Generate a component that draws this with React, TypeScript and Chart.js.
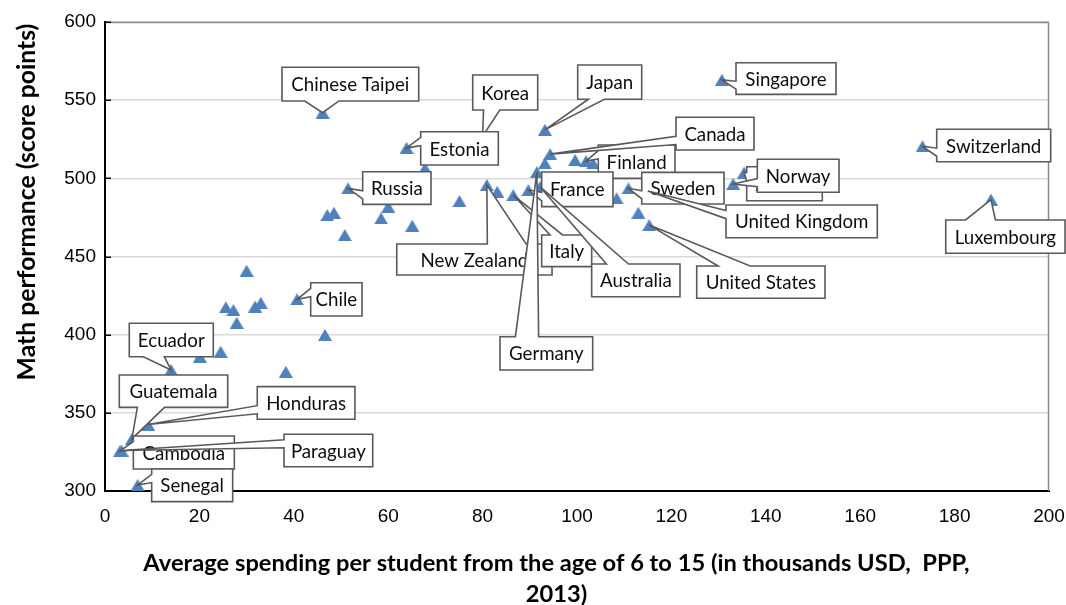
import React, { useEffect, useRef } from "react";
import { Chart, registerables } from "chart.js";

Chart.register(...registerables);

// ---------- DATA ----------
const xAxisTicks = [0, 20, 40, 60, 80, 100, 120, 140, 160, 180, 200];
const yAxisTicks = [300, 350, 400, 450, 500, 550, 600];

const xAxisTitle = [
  "Average spending per student from the age of 6 to 15 (in thousands USD,  PPP,",
  "2013)",
];
const yAxisTitle = "Math performance (score points)";

const labeledCountries = [
  "Chinese Taipei", "Singapore", "Japan", "Korea", "Estonia", "Switzerland",
  "Finland", "Canada", "Russia", "France", "New Zealand", "Italy", "Australia",
  "Germany", "Sweden", "United Kingdom", "Austria", "Norway", "United States",
  "Luxembourg", "Chile", "Ecuador", "Guatemala", "Honduras", "Cambodia",
  "Paraguay", "Senegal",
];
const labeledSpending = [
  46.1, 130.7, 93.2, 80.0, 63.9, 173.2,
  101.9, 94.3, 51.5, 89.7, 80.9, 86.5, 92.2,
  91.5, 110.9, 115.0, 135.4, 133.1, 115.3,
  187.7, 40.7, 14.0, 5.7, 9.1, 3.1,
  3.5, 6.9,
];
const labeledMath = [
  542, 563, 531, 527, 519.5, 520.5,
  511, 515.5, 493.6, 492.5, 495.7, 489.3, 494.5,
  504, 493.6, 491.9, 503.7, 496.4, 470.1,
  486.4, 422.6, 377.4, 333.3, 342.5, 325.3,
  325.9, 303.8,
];

const otherSpending = [
  99.6, 103.4, 93.2, 67.8, 83.1, 75.1, 108.4, 113.0,
  47.1, 48.5, 58.5, 60.0, 50.8, 65.1, 30.0,
  25.6, 27.2, 27.9, 31.8, 33.0, 46.6, 24.5, 20.1, 38.3,
];
const otherMath = [
  511.7, 509.5, 509.6, 506.4, 491.4, 485.5, 487.2, 478,
  476.5, 478, 474.4, 481.8, 463.7, 469.7, 440.9,
  417.5, 415.8, 407.6, 418, 420.4, 399.8, 389.1, 385.9, 376.3,
];

// ---------- CALLOUT LAYOUT (box offset from its point, px: dx, dy, width, height) ----------
const calloutBoxes: Record<string, number[]> = {
  "Chinese Taipei": [-40.6, -45.4, 136.7, 33.7],
  Singapore: [14.1, -17.1, 100, 31.6],
  Japan: [32.8, -64.9, 64, 34.3],
  Korea: [-9.9, -61.1, 65, 35],
  Estonia: [14.1, -16.1, 77.6, 33.3],
  Switzerland: [14.2, -17, 114, 32.4],
  Finland: [12.3, -16.1, 76.7, 33.3],
  Canada: [125.9, -36.8, 78, 32.7],
  Russia: [14.6, -16.6, 68.3, 32.6],
  France: [13.3, -18.1, 71.3, 34.7],
  "New Zealand": [-90.1, 58.9, 155.3, 31],
  Italy: [28.4, 39.9, 50, 31.7],
  Australia: [51.5, 77.1, 88.3, 32.7],
  Germany: [-36.9, 164.6, 92.7, 33.3],
  Sweden: [13.3, -16, 82.3, 31.7],
  "United Kingdom": [78.2, 14, 151.3, 32.7],
  Austria: [2.6, -5.8, 75.6, 34],
  Norway: [24.1, -24.7, 81.7, 33],
  "United States": [47.5, 40.9, 128.3, 32.3],
  Luxembourg: [-45.2, 20.4, 119.3, 33.3],
  Chile: [13.6, -16.6, 51.3, 33.3],
  Ecuador: [-41.8, -46.7, 84, 33.4],
  Guatemala: [-12.6, -63.9, 108.4, 32.3],
  Honduras: [109.3, -37.9, 97.7, 32.6],
  Cambodia: [13.7, -15.4, 101, 33],
  Paraguay: [162.5, -16.2, 88.7, 32.4],
  Senegal: [14.1, -16.1, 81, 32.7],
};

const LABEL_FONT = "Lato, 'Open Sans', sans-serif";
const TITLE_FONT = "Lato, 'Open Sans', sans-serif";
const TICK_FONT = "'Liberation Sans', Arial, sans-serif";

function calloutPath(ctx: CanvasRenderingContext2D, l: number, t: number, w: number, h: number, tx: number, ty: number) {
  const r = l + w, b = t + h, hc = l + w / 2, vc = t + h / 2;
  const dxPos = tx - hc, dyPos = ty - vc;
  const dq = (dxPos * h) / w;
  const dz = Math.abs(dyPos) - Math.abs(dq);
  const x1 = l + (w * (dxPos > 0 ? 7 : 2)) / 12;
  const x2 = l + (w * (dxPos > 0 ? 10 : 5)) / 12;
  const y1 = t + (h * (dyPos > 0 ? 7 : 2)) / 12;
  const y2 = t + (h * (dyPos > 0 ? 10 : 5)) / 12;
  const xl = dz > 0 ? l : dxPos > 0 ? l : tx;
  const yl = dz > 0 ? y1 : dxPos > 0 ? y1 : ty;
  const xt = dz > 0 ? (dyPos > 0 ? x1 : tx) : x1;
  const yt = dz > 0 ? (dyPos > 0 ? t : ty) : t;
  const xr = dz > 0 ? r : dxPos > 0 ? tx : r;
  const yr = dz > 0 ? y1 : dxPos > 0 ? ty : y1;
  const xb = dz > 0 ? (dyPos > 0 ? tx : x1) : x1;
  const yb = dz > 0 ? (dyPos > 0 ? ty : b) : b;
  ctx.beginPath();
  ctx.moveTo(l, t);
  ctx.lineTo(x1, t);
  ctx.lineTo(xt, yt);
  ctx.lineTo(x2, t);
  ctx.lineTo(r, t);
  ctx.lineTo(r, y1);
  ctx.lineTo(xr, yr);
  ctx.lineTo(r, y2);
  ctx.lineTo(r, b);
  ctx.lineTo(x2, b);
  ctx.lineTo(xb, yb);
  ctx.lineTo(x1, b);
  ctx.lineTo(l, b);
  ctx.lineTo(l, y2);
  ctx.lineTo(xl, yl);
  ctx.lineTo(l, y1);
  ctx.closePath();
}

function fitSize(ctx: CanvasRenderingContext2D, text: string, target: number, weight: string, family: string) {
  ctx.font = `${weight} 100px ${family}`;
  const w = ctx.measureText(text).width;
  return (100 * target) / w;
}

const decorPlugin = {
  id: "decor",
  afterDraw(chart: any) {
    const { ctx, chartArea: a, scales } = chart;
    const xs = scales.x, ys = scales.y;
    ctx.save();
    // top & right frame
    ctx.strokeStyle = "#8a8a8a";
    ctx.lineWidth = 1.5;
    ctx.beginPath();
    ctx.moveTo(a.left, a.top + 0.5);
    ctx.lineTo(a.right - 0.5, a.top + 0.5);
    ctx.lineTo(a.right - 0.5, a.bottom);
    ctx.stroke();
    // inward tick marks on y axis
    ctx.strokeStyle = "#000";
    ctx.lineWidth = 1.5;
    yAxisTicks.forEach((v) => {
      const py = Math.round(ys.getPixelForValue(v)) + 0.25;
      ctx.beginPath();
      ctx.moveTo(a.left, py);
      ctx.lineTo(a.left + 6, py);
      ctx.stroke();
    });

    // axis titles
    ctx.fillStyle = "#000";
    ctx.textAlign = "center";
    ctx.textBaseline = "middle";
    const xs1 = fitSize(ctx, xAxisTitle[0], 827, "bold", TITLE_FONT);
    ctx.font = `bold ${xs1}px ${TITLE_FONT}`;
    ctx.fillText(xAxisTitle[0], 556.5, 563);
    ctx.fillText(xAxisTitle[1], 556.5, 594);
    const ys1 = fitSize(ctx, yAxisTitle, 357, "bold", TITLE_FONT);
    ctx.save();
    ctx.translate(27, 202);
    ctx.rotate(-Math.PI / 2);
    ctx.font = `bold ${ys1}px ${TITLE_FONT}`;
    ctx.fillText(yAxisTitle, 0, 0);
    ctx.restore();

    // callouts
    const ls = fitSize(ctx, "Chinese Taipei", 118, "normal", LABEL_FONT);
    labeledCountries.forEach((name, i) => {
      const box = calloutBoxes[name];
      if (!box) return;
      const px = xs.getPixelForValue(labeledSpending[i]);
      const py = ys.getPixelForValue(labeledMath[i]);
      const [dx, dy, w, h] = box;
      const l = px + dx, t = py + dy;
      calloutPath(ctx, l, t, w, h, px, py);
      ctx.fillStyle = "#ffffff";
      ctx.fill();
      ctx.strokeStyle = "#595959";
      ctx.lineWidth = 1.6;
      ctx.lineJoin = "miter";
      ctx.stroke();
      ctx.fillStyle = "#0d0d0d";
      ctx.font = `normal ${ls}px ${LABEL_FONT}`;
      ctx.textAlign = "center";
      ctx.textBaseline = "alphabetic";
      ctx.fillText(name, l + w / 2, t + h / 2 + ls * 0.38);
    });
    ctx.restore();
  },
};

export default function App() {
  const ref = useRef<HTMLCanvasElement | null>(null);
  useEffect(() => {
    if (!ref.current) return;
    const marker = document.createElement("canvas");
    marker.width = 14;
    marker.height = 12;
    const m = marker.getContext("2d")!;
    m.fillStyle = "#4F81BD";
    m.beginPath();
    m.moveTo(7, 0);
    m.lineTo(14, 12);
    m.lineTo(0, 12);
    m.closePath();
    m.fill();

    const points = labeledSpending
      .map((v, i) => ({ x: v, y: labeledMath[i] }))
      .concat(otherSpending.map((v, i) => ({ x: v, y: otherMath[i] })));

    const zeroPad = (s: any) => {
      s.paddingLeft = 0;
      s.paddingRight = 0;
      s.paddingTop = 0;
      s.paddingBottom = 0;
    };

    const chart = new Chart(ref.current, {
      type: "scatter",
      data: {
        datasets: [
          {
            data: points,
            pointStyle: marker as any,
            pointRadius: 7,
            backgroundColor: "#4F81BD",
            borderColor: "#4F81BD",
          },
        ],
      },
      options: {
        responsive: false,
        animation: false,
        devicePixelRatio: 1,
        layout: { padding: { left: 0, top: 22, right: 17, bottom: 0 } },
        plugins: { legend: { display: false }, tooltip: { enabled: false } },
        scales: {
          x: {
            type: "linear",
            min: xAxisTicks[0],
            max: xAxisTicks[xAxisTicks.length - 1],
            afterFit: (s: any) => {
              s.height = 114;
              zeroPad(s);
            },
            afterBuildTicks: (s: any) => {
              s.ticks = xAxisTicks.map((v) => ({ value: v }));
            },
            ticks: {
              color: "#000",
              font: { family: TICK_FONT, size: 19 },
              padding: 14,
              maxRotation: 0,
            },
            grid: { display: false, drawTicks: false },
            border: { display: true, color: "#000", width: 2 },
          },
          y: {
            type: "linear",
            min: yAxisTicks[0],
            max: yAxisTicks[yAxisTicks.length - 1],
            afterFit: (s: any) => {
              s.width = 105;
              zeroPad(s);
            },
            afterBuildTicks: (s: any) => {
              s.ticks = yAxisTicks.map((v) => ({ value: v }));
            },
            ticks: {
              color: "#000",
              font: { family: TICK_FONT, size: 19 },
              padding: 9,
            },
            grid: { color: "#D9D9D9", lineWidth: 1.5, drawTicks: false },
            border: { display: true, color: "#000", width: 2 },
          },
        },
      },
      plugins: [decorPlugin],
    });
    return () => chart.destroy();
  }, []);

  return (
    <div style={{ position: "absolute", left: 0, top: 0, width: 1066, height: 605, background: "#fff" }}>
      <canvas ref={ref} width={1066} height={605} style={{ display: "block" }} />
    </div>
  );
}
